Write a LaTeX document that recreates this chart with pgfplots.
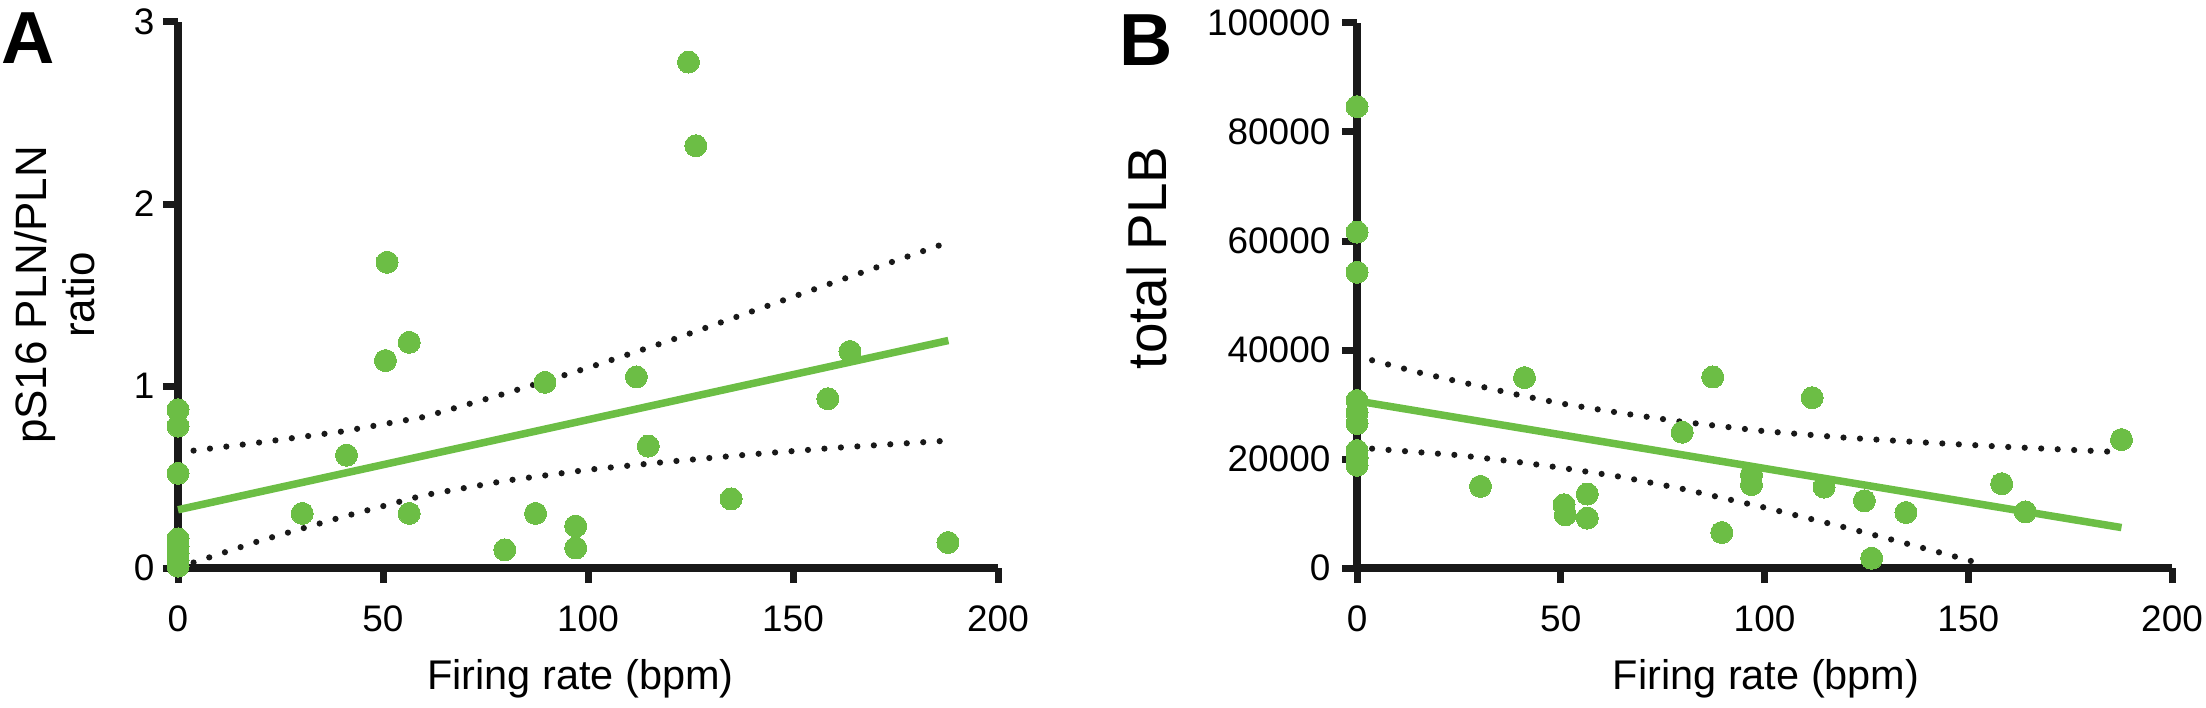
\documentclass[border=0pt]{standalone}
\usepackage{fontspec}
\setmainfont{Liberation Sans}
\usepackage{pgfplots}
\pgfplotsset{compat=1.18}
\definecolor{plgreen}{RGB}{108,190,69}
\definecolor{axblack}{RGB}{25,25,25}
\tikzset{cidot/.style={axblack, line width=0.62mm, line cap=round, dash pattern=on 0pt off 1.65mm},
         fitline/.style={plgreen, line width=0.75mm}}
\pgfplotsset{
  prism/.style={
    scale only axis,
    axis lines=left,
    axis line style={-, line width=0.75mm, axblack},
    tick align=outside,
    major tick length=1.5mm,
    tick style={line width=0.7mm, axblack},
    xtick pos=left, ytick pos=left,
    clip=false,
    /pgf/number format/assume math mode=true,
    tick label style={font=\fontsize{10.5}{12}\selectfont, inner sep=0pt},
    x tick label style={yshift=-2.2mm},
    xlabel style={font=\fontsize{11.8}{14}\selectfont, anchor=base},
    xmin=0, xmax=200, xtick={0,50,100,150,200},
    scaled y ticks=false,
  },
  pts/.style={only marks, mark=*, mark size=1.1mm, plgreen, mark options={draw=plgreen, fill=plgreen, line width=0pt}},
}
\begin{document}
\begin{tikzpicture}
\useasboundingbox (0,0) rectangle (220.6mm,70.7mm);
\node[font=\fontsize{21}{25}\selectfont\bfseries] at (2.8mm,66.9mm) {A};
\node[font=\fontsize{21}{25}\selectfont\bfseries] at (114.6mm,66.7mm) {B};
% Panel A
\begin{axis}[prism,
  at={(17.8mm,13.9mm)}, anchor=south west,
  width=82mm, height=54.6mm,
  ymin=0, ymax=3, ytick={0,1,2,3},
  y tick label style={xshift=-0.8mm},
  xlabel={Firing rate (bpm)},
  xlabel style={at={(axis description cs:0.491,-0.2234)}},
  ylabel={pS16 PLN/PLN\\ratio},
  ylabel style={align=center, font=\fontsize{12.5}{13.6}\selectfont, at={(axis description cs:-0.150,0.5)}, anchor=center},
]
\addplot[cidot] coordinates {(3.8,0.645) (20,0.69) (40,0.75) (60,0.83) (80,0.96) (100,1.10) (120,1.25) (140,1.41) (160,1.57) (187.9,1.79)};
\addplot[cidot] coordinates {(3.8,0.03) (20,0.15) (40,0.28) (60,0.40) (80,0.48) (100,0.54) (120,0.585) (140,0.625) (160,0.66) (187.9,0.70)};
\addplot[fitline] coordinates {(0,0.32) (187.9,1.25)};
\addplot[pts] coordinates {
 (0,0.87) (0,0.78) (0,0.52) (0,0.16) (0,0.12) (0,0.08) (0,0.04) (0,0.01)
 (30.3,0.30) (41.1,0.62) (50.6,1.14) (51.0,1.68) (56.4,1.24) (56.4,0.30)
 (79.7,0.10) (87.2,0.30) (89.5,1.02) (97.0,0.23) (97.0,0.11) (111.8,1.05)
 (114.7,0.67) (124.5,2.78) (126.3,2.32) (134.9,0.38) (158.5,0.93) (163.9,1.19) (187.8,0.14)
};
\end{axis}
% Panel B
\begin{axis}[prism,
  at={(135.7mm,13.9mm)}, anchor=south west,
  width=81.5mm, height=54.5mm,
  ymin=0, ymax=100000, ytick={0,20000,40000,60000,80000,100000},
  yticklabels={0,20000,40000,60000,80000,100000},
  y tick label style={xshift=-1.1mm},
  xlabel={Firing rate (bpm)},
  xlabel style={at={(axis description cs:0.502,-0.2238)}},
  ylabel={total PLB},
  ylabel style={font=\fontsize{15.6}{18}\selectfont, at={(axis description cs:-0.2577,0.569)}, anchor=center},
]
\addplot[cidot] coordinates {(3.7,38120) (15,35900) (25,34200) (40,31700) (50,30200) (65,28400) (80,26800) (100,25100) (120,23900) (140,23000) (160,22200) (187.6,21250)};
\addplot[cidot] coordinates {(3.7,21900) (15,21250) (25,20700) (40,19400) (50,18400) (65,16700) (80,14500) (100,11100) (120,7400) (130,5450) (150,1450) (154,450)};
\addplot[fitline] coordinates {(0,30650) (187.6,7420)};
\addplot[pts] coordinates {
 (0,84660) (0,61640) (0,54270) (0,30750) (0,28490) (0,26520) (0,21550) (0,20200) (0,18840)
 (30.3,14980) (41.1,34930) (50.8,11600) (51.1,9760) (56.5,13570) (56.5,9150)
 (79.8,24920) (87.3,35050) (89.5,6510) (96.8,17130) (96.8,15290) (111.7,31250)
 (114.6,14860) (124.5,12340) (126.3,1790) (134.7,10190) (158.2,15470) (164.0,10310) (187.6,23570)
};
\end{axis}
\end{tikzpicture}
\end{document}
